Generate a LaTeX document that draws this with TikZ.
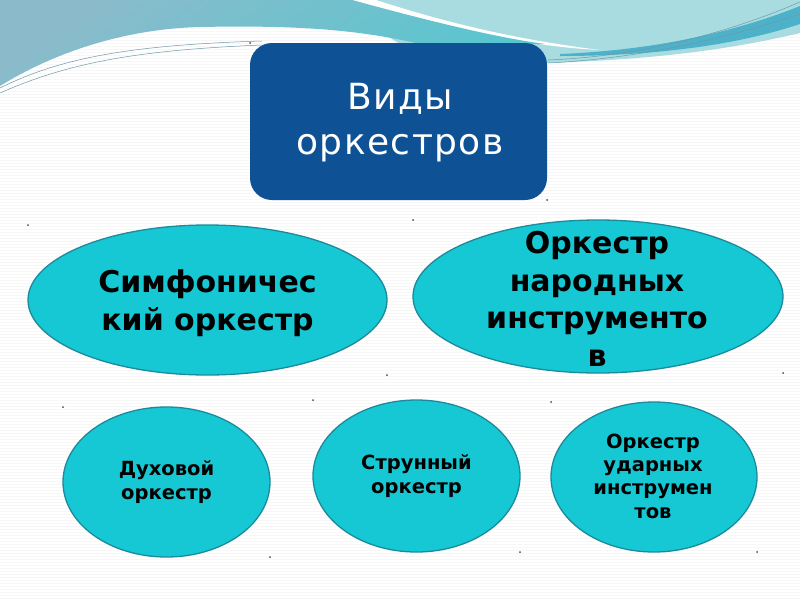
\documentclass[tikz,border=0pt]{standalone}
\usepackage{fontspec}
\setmainfont{DejaVu Sans}
\newfontfamily\titlefont{DejaVu Sans}[LetterSpace=4]
\usetikzlibrary{shapes.geometric}
\definecolor{cyanfill}{HTML}{16C8D4}
\definecolor{cyanedge}{HTML}{1B8A9C}
\definecolor{titleblue}{HTML}{0E5295}
\definecolor{waveL}{HTML}{8BBBCB}
\definecolor{waveLb}{HTML}{58C6CF}
\definecolor{waveR}{HTML}{A8DCE1}
\definecolor{waveDark}{HTML}{4DB2C9}
\definecolor{waveLine}{HTML}{6F98A6}
\tikzset{
  ell/.style={ellipse, draw=cyanedge, line width=1.3pt, fill=cyanfill, inner sep=0pt},
  bigtxt/.style={align=center, text=black, font=\fontsize{30}{37.5}\selectfont\bfseries, inner sep=0pt},
  smalltxt/.style={align=center, text=black, font=\fontsize{19.5}{23.3}\selectfont\bfseries, inner sep=0pt},
  dotmark/.style={circle, fill=black!70, inner sep=0pt, minimum size=2pt},
  titlebox/.style={rectangle, rounded corners=22pt, fill=titleblue, inner sep=0pt},
  titletxt/.style={align=center, text=white, font=\titlefont\fontsize{36}{45}\selectfont, inner sep=0pt}
}
\begin{document}
\begin{tikzpicture}[x=1pt,y=-1pt]
\useasboundingbox (0,0) rectangle (800,600);
\fill[white] (0,0) rectangle (800,600);
\foreach \yy in {1.5,4.5,...,600} {\draw[black!3, line width=0.6pt] (0,\yy) -- (800,\yy);}
% top waves
\fill[waveR] (330,0) -- (800,0) -- (800,33) .. controls (720,52) and (640,60) .. (545,63) -- (430,63) -- cycle;
\fill[waveDark] (560,54) .. controls (660,50) and (740,30) .. (800,6) -- (800,24) .. controls (740,44) and (660,56) .. (560,56) -- cycle;
\draw[waveLine, line width=0.5pt] (548,60) .. controls (650,56) and (740,28) .. (800,2);
\draw[waveLine, line width=0.5pt] (548,63) .. controls (650,58) and (740,34) .. (800,14);
\fill[white] (352,0) -- (376,0) .. controls (450,24) and (520,40) .. (600,50) .. controls (520,46) and (440,26) .. (352,0) -- cycle;
\shade[top color=waveL, bottom color=waveLb, shading angle=35] (0,0) -- (352,0) .. controls (440,24) and (500,38) .. (545,44) -- (420,44) .. controls (360,30) and (300,25) .. (200,27) .. controls (120,29) and (50,55) .. (0,86) -- cycle;
\draw[waveLine, line width=0.5pt] (0,88) .. controls (60,58) and (130,45) .. (262,41);
\draw[waveLine, line width=0.5pt] (0,93) .. controls (70,62) and (140,50) .. (262,45);
% title
\node[titlebox, minimum width=297pt, minimum height=157pt] (title) at (398.5,121.5) {};
\node[titletxt] (titletext) at (400,123) {Виды\\оркестров};
% ellipses
\node[ell, minimum width=359pt, minimum height=150pt] (sym) at (207.5,300) {};
\node[bigtxt] (symtext) at (207.5,303) {Симфоничес\\кий оркестр};
\node[ell, minimum width=370pt, minimum height=153pt] (nar) at (598,296.5) {};
\node[bigtxt] (nartext) at (597,299) {Оркестр\\народных\\инструменто\\в};
\node[ell, minimum width=207pt, minimum height=150pt] (duh) at (166.5,482) {};
\node[smalltxt] (duhtext) at (166.5,482) {Духовой\\оркестр};
\node[ell, minimum width=207pt, minimum height=152pt] (str) at (416.5,476) {};
\node[smalltxt] (strtext) at (416.5,476) {Струнный\\оркестр};
\node[ell, minimum width=206pt, minimum height=150pt] (uda) at (654,477) {};
\node[smalltxt] (udatext) at (653,476) {Оркестр\\ударных\\инструмен\\тов};
% corner dots
\foreach \px/\py [count=\i] in {250/43,547/200,28/225,387/375,413/220,783/373,63/407,270/557,313/400,520/552,551/402,757/552}
  {\node[dotmark] (d\i) at (\px,\py) {};}
\end{tikzpicture}
\end{document}
